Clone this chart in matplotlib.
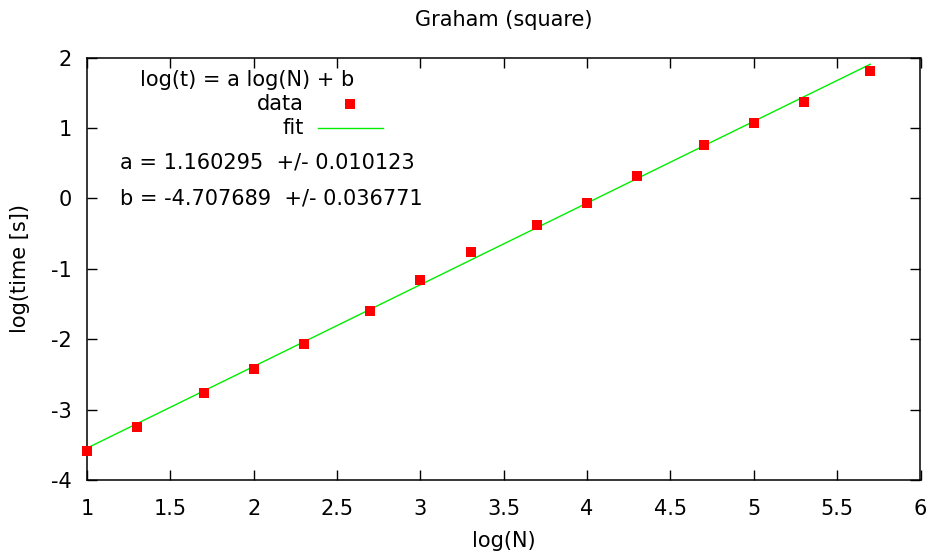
import matplotlib
matplotlib.use("Agg")
import matplotlib.pyplot as plt
import numpy as np

logN = [1.0, 1.30103, 1.69897, 2.0, 2.30103, 2.69897, 3.0, 3.30103, 3.69897,
        4.0, 4.30103, 4.69897, 5.0, 5.30103, 5.69897]
logT = [-3.588, -3.247, -2.763, -2.422, -2.067, -1.597, -1.157, -0.758, -0.375,
        -0.062, 0.322, 0.763, 1.076, 1.374, 1.815]
a_fit, a_err = 1.160295, 0.010123
b_fit, b_err = -4.707689, 0.036771
xticks = [1, 1.5, 2, 2.5, 3, 3.5, 4, 4.5, 5, 5.5, 6]
xticklabels = ["1", "1.5", "2", "2.5", "3", "3.5", "4", "4.5", "5", "5.5", "6"]
yticks = [-4, -3, -2, -1, 0, 1, 2]
yticklabels = ["-4", "-3", "-2", "-1", "0", "1", "2"]

plt.rcParams['font.family'] = ['DejaVu Sans']
W, H = 932, 555
fig = plt.figure(figsize=(W / 100, H / 100), dpi=100)
L, R, T, B = 87, 920.5, 57.5, 480
ax = fig.add_axes([L / W, 1 - B / H, (R - L) / W, (B - T) / H])

red = "#ff0000"
green = "#00ee00"
fs = 15

xf = np.array([logN[0], logN[-1]])
ax.plot(xf, a_fit * xf + b_fit, color=green, lw=1.0, zorder=2)
ax.plot(logN, logT, linestyle="none", marker="s", markersize=7, color=red,
        markeredgewidth=0, zorder=3, clip_on=False)

ax.set_xlim(1, 6)
ax.set_ylim(-4, 2)
ax.set_xticks(xticks)
ax.set_xticklabels(xticklabels)
ax.set_yticks(yticks)
ax.set_yticklabels(yticklabels)
ax.tick_params(direction="in", length=7, width=1, top=True, right=True,
               labelsize=fs)
ax.tick_params(axis="x", pad=14)
ax.tick_params(axis="y", pad=11)
for s in ax.spines.values():
    s.set_linewidth(1.1)

fig.text((L + R) / 2 / W, 1 - 20 / H, "Graham (square)", fontsize=fs,
         ha="center", va="center")
fig.text((L + R) / 2 / W, 1 - 541 / H, "log(N)", fontsize=fs,
         ha="center", va="center")
fig.text(20 / W, 1 - (T + B) / 2 / H, "log(time [s])", fontsize=fs,
         ha="center", va="center", rotation=90)

# key (gnuplot-style)
def ax_xy(px, py):
    return ((px - L) / (R - L), (B - py) / (B - T))

tx, ty = ax_xy(247, 80)
ax.text(tx, ty, "log(t) = a log(N) + b", transform=ax.transAxes, fontsize=fs,
        ha="center", va="center")
tx, ty = ax_xy(304, 104)
ax.text(tx, ty, "data", transform=ax.transAxes, fontsize=fs, ha="right", va="center")
mx, my = ax_xy(350, 104)
ax.plot([mx], [my], transform=ax.transAxes, marker="s", markersize=7, color=red,
        markeredgewidth=0, linestyle="none", clip_on=False)
tx, ty = ax_xy(304, 128)
ax.text(tx, ty, "fit", transform=ax.transAxes, fontsize=fs, ha="right", va="center")
l0x, ly = ax_xy(318, 128)
l1x, _ = ax_xy(383, 128)
ax.plot([l0x, l1x], [ly, ly], transform=ax.transAxes, color=green, lw=1.0)

tx, ty = ax_xy(120, 163)
ax.text(tx, ty, "a = %.6f  +/- %.6f" % (a_fit, a_err), transform=ax.transAxes,
        fontsize=fs, ha="left", va="center")
tx, ty = ax_xy(120, 198)
ax.text(tx, ty, "b = %.6f  +/- %.6f" % (b_fit, b_err), transform=ax.transAxes,
        fontsize=fs, ha="left", va="center")

fig.savefig("out.png", dpi=100)
